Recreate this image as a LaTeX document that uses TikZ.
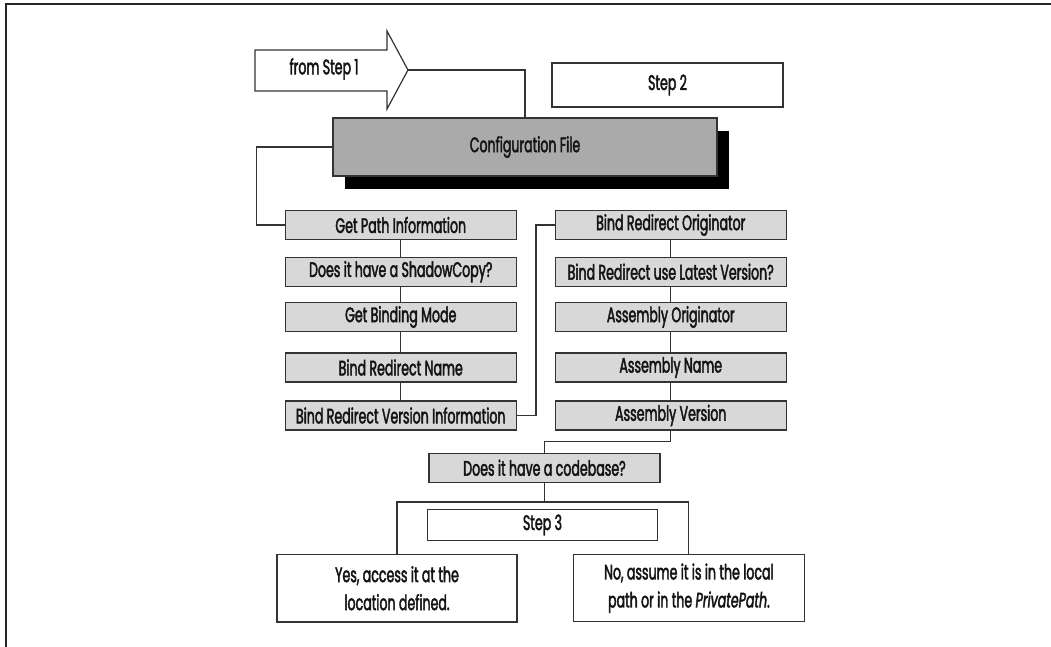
\documentclass[tikz,border=0pt]{standalone}
\usepackage{fontspec}
\setmainfont[FakeStretch=0.6, FakeBold=2]{Poppins}
\usetikzlibrary{shadows}
\definecolor{boxgray}{HTML}{D8D8D8}
\definecolor{cfggray}{HTML}{AAAAAA}
\definecolor{edge}{HTML}{333333}
\begin{document}
\begin{tikzpicture}[x=1pt,y=-1pt,
  lbl/.style={font=\fontsize{21pt}{28pt}\selectfont, text=black!92},
  stepbox/.style={lbl, draw=edge, line width=1.2pt, fill=boxgray,
    minimum width=231pt, minimum height=29pt, inner sep=0pt},
  plainbox/.style={lbl, draw=edge, line width=1.2pt, fill=white, inner sep=0pt, align=center},
  link/.style={draw=edge, line width=1.1pt},
  frame/.style={draw=black!85, line width=1.6pt}]
\useasboundingbox (0,0) rectangle (1051,647);

% page frame
\draw[frame] (6,647) -- (6,4.3) -- (1051,4.3);

% incoming arrow from the previous step
\draw[plainbox] (255,50) -- (387,50) -- (387,31) -- (408,70) -- (387,109) -- (387,91) -- (255,91) -- cycle;
\coordinate (tip) at (408,70);
\node[lbl] (from1) at (324,69) {from Step 1};

\node[plainbox, minimum width=231pt, minimum height=44pt] (step2) at (667.5,85) {Step 2};

\node[lbl, draw=edge, line width=1.2pt, fill=cfggray, minimum width=384pt, minimum height=58pt,
  drop shadow={shadow xshift=12pt, shadow yshift=-13pt, fill=black, opacity=1}] (cfg) at (525,147) {Configuration File};

% left column
\node[stepbox] (gpi)  at (400.75,225)   {Get Path Information};
\node[stepbox] (shc)  at (400.75,271.7) {Does it have a ShadowCopy?};
\node[stepbox] (gbm)  at (400.75,317)   {Get Binding Mode};
\node[stepbox] (brn)  at (400.75,367.5) {Bind Redirect Name};
\node[stepbox] (brvi) at (400.75,415.5) {Bind Redirect Version Information};

% right column
\node[stepbox] (bro) at (670.75,225)   {Bind Redirect Originator};
\node[stepbox] (brl) at (670.75,271.7) {Bind Redirect use Latest Version?};
\node[stepbox] (ao)  at (670.75,317)   {Assembly Originator};
\node[stepbox] (an)  at (670.75,367.5) {Assembly Name};
\node[stepbox] (av)  at (670.75,415.5) {Assembly Version};

\node[stepbox] (cb) at (544.5,467.8) {Does it have a codebase?};
\node[plainbox, minimum width=230pt, minimum height=30.5pt] (step3) at (542.5,525) {Step 3};

\node[plainbox, minimum width=240pt, minimum height=67.5pt] (yes) at (397,588.2)
  {Yes, access it at the\\location defined.};
\node[plainbox, minimum width=231pt, minimum height=67pt] (no) at (688.9,588.2)
  {No, assume it is in the local\\path or in the \textit{PrivatePath}.};

% connectors
\draw[link] (tip) -| (cfg.north);
\coordinate (lbend) at (256.6,147);
\draw[link] (cfg.west) -- (lbend) |- (gpi.west);
\draw[link] (gpi) -- (shc);
\draw[link] (shc) -- (gbm);
\draw[link] (gbm) -- (brn);
\draw[link] (brn) -- (brvi);
\coordinate (mbend) at (536,415.5);
\draw[link] (brvi.east) -- (mbend) |- (bro.west);
\draw[link] (bro) -- (brl);
\draw[link] (brl) -- (ao);
\draw[link] (ao) -- (an);
\draw[link] (an) -- (av);
\coordinate (cbend) at (670.75,441.7);
\draw[link] (av.south) -- (cbend) -| (cb.north);
\coordinate (split) at (544.5,502);
\draw[link] (cb.south) -- (split);
\draw[link] (yes.north) |- (split) -| (no.north);
\end{tikzpicture}
\end{document}
